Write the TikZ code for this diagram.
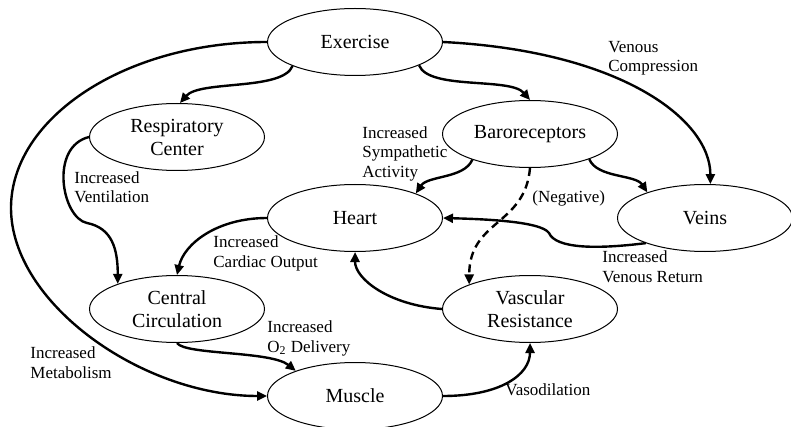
\documentclass[tikz,border=0pt]{standalone}
\usepackage{fontspec}
\setmainfont{Liberation Serif}
\usepackage{tikz}
\usetikzlibrary{shapes.geometric, arrows.meta}

\begin{document}
\begin{tikzpicture}[x=0.5pt, y=-0.5pt,
  organ/.style={draw, ellipse, line width=0.5pt, minimum width=87.5pt, minimum height=33.5pt,
    inner sep=0pt, align=center, font=\fontsize{10}{11.5}\selectfont},
  link/.style={-{Triangle[length=5pt, width=4.5pt]}, line width=1.2pt},
  neglink/.style={link, dash pattern=on 4pt off 2.5pt},
  lbl/.style={anchor=base west, inner sep=0pt, align=left, font=\fontsize{8.5}{9.7}\selectfont}]
\useasboundingbox (0,0) rectangle (791,427);
\node[organ] (exercise) at (355,42) {Exercise};
\node[organ] (resp) at (177,137) {Respiratory\\Center};
\node[organ] (baro) at (530,134) {Baroreceptors};
\node[organ] (heart) at (355,218) {Heart};
\node[organ] (veins) at (705,218) {Veins};
\node[organ] (circ) at (177,309) {Central\\Circulation};
\node[organ] (vasc) at (530,309) {Vascular\\Resistance};
\node[organ] (muscle) at (355,396) {Muscle};
\coordinate (metabend) at (11,208);
\coordinate (ventbend) at (87,223);
\coordinate (returnbend) at (549,233);
\draw[link] (exercise.201) .. controls +(-10,25) and +(20,-23) .. (resp.85);
\draw[link] (exercise.340) .. controls +(10,25) and +(-20,-23) .. (baro.90);
\draw[link] (exercise.east) .. controls +(177,9) and +(0,-65) .. (veins.81);
\draw[link] (exercise.west) .. controls +(-142,0) and +(0,-90) .. (metabend)
  .. controls +(0,95) and +(-125,0) .. (muscle.west);
\draw[link] (resp.west) .. controls +(-40,10) and +(-25,-5) .. (ventbend)
  .. controls +(25,5) and +(0,-35) .. (circ.157);
\draw[link] (heart.west) .. controls +(-50,0) and +(7,-31) .. (circ.90);
\draw[link] (baro.204) .. controls +(-8,19) and +(12,-18) .. (heart.22);
\draw[link] (baro.337) .. controls +(8,19) and +(-12,-18) .. (veins.156);
\draw[neglink] (baro.south) .. controls +(-5,58) and +(0,-65) .. (vasc.158);
\draw[link] (veins.203) .. controls +(-48,6) and +(7,16) .. (returnbend)
  .. controls +(-8,-12) and +(37,1) .. (heart.east);
\draw[link] (vasc.west) .. controls +(-53,-4) and +(0,27) .. (heart.south);
\draw[link] (circ.south) .. controls +(8,12) and +(-25,-20) .. (muscle.157);
\draw[link] (muscle.east) .. controls +(57,0) and +(0,32) .. (vasc.south);
% labels (base = last line)
\node[lbl] (lcomp) at (608,72) {Venous\\Compression};
\node[lbl] (lsymp) at (362,177) {Increased\\Sympathetic\\Activity};
\node[lbl] (lvent) at (74,203) {Increased\\Ventilation};
\node[lbl] (lneg) at (532,203) {(Negative)};
\node[lbl] (lcard) at (213,267) {Increased\\Cardiac Output};
\node[lbl] (lret) at (602,282) {Increased\\Venous Return};
\node[lbl] (loxy) at (267,352) {Increased\\O\textsubscript{2} Delivery};
\node[lbl] (lmet) at (30,378) {Increased\\Metabolism};
\node[lbl] (lvaso) at (505,395) {Vasodilation};
\end{tikzpicture}
\end{document}
